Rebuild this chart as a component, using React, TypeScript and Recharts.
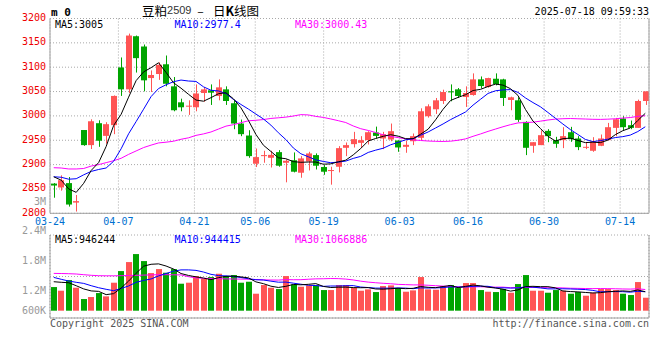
import React from 'react';
import { ComposedChart, Bar, Line, XAxis, YAxis, CartesianGrid } from 'recharts';

const dates = ["03-24","03-25","03-26","03-27","03-28","03-31","04-01","04-02","04-03","04-07","04-08","04-09","04-10","04-11","04-14","04-15","04-16","04-17","04-18","04-21","04-22","04-23","04-24","04-25","04-28","04-29","04-30","05-06","05-07","05-08","05-09","05-12","05-13","05-14","05-15","05-16","05-19","05-20","05-21","05-22","05-23","05-26","05-27","05-28","05-29","05-30","06-03","06-04","06-05","06-06","06-09","06-10","06-11","06-12","06-13","06-16","06-17","06-18","06-19","06-20","06-23","06-24","06-25","06-26","06-27","06-30","07-01","07-02","07-03","07-04","07-07","07-08","07-09","07-10","07-11","07-14","07-15","07-16","07-17","07-18"];
const tickDates = ["03-24","04-07","04-21","05-06","05-19","06-03","06-16","06-30","07-14"];

const opens = [2861,2853,2862,2822,2971,2940,2985,2959,2981,3099.5,3054.5,3163.6,3142.5,3077.7,3086,3106,3060.7,3027.9,3019,3017.7,3047,3052.5,3041,3054.5,3026,2984.3,2959.7,2901.8,2917.4,2914,2925.6,2903.8,2909,2883.3,2906.5,2919.5,2895,2887.4,2895.6,2934.5,2942,2944.7,2950.2,2965.9,2953.6,2951.5,2949.5,2936.5,2948,2955,2999.3,3013.6,3030.6,3050.4,3054.5,3038.8,3042.9,3075,3059.3,3076.3,3075,3032.7,3032,2987.7,2938.6,2940,2969.3,2950.2,2950.2,2966.5,2953.6,2935.2,2928.4,2938.6,2950.2,2975.4,2994.5,2980.9,2975.4,3030.6];
const highs = [2862,2878,2874.5,2837.6,2971,2993,2991,2987,3042,3120,3169,3165,3146.6,3093.4,3110,3124,3079.8,3035.4,3032,3064.7,3059,3064.7,3075,3060.7,3032,2992.5,2970.6,2933,2928.4,2928.4,2929.7,2910.6,2925,2917.4,2926.3,2923,2899,2895.6,2937.9,2945.4,2967.2,2958.4,2968.6,2978,2967.2,2984.3,2949.5,2949.5,2963.8,3015.6,3023.8,3036.8,3053.8,3064.7,3057.2,3060.7,3087.3,3081,3078.4,3087.3,3076.3,3039.5,3038.2,2989,2946,2970,2972.7,2957,2976.8,2977.5,2958.4,2946,2956.3,2961.8,2985.6,2995.9,2999.3,2990.4,3033.4,3050.4];
const lows = [2832,2846.5,2813.8,2803.6,2938.6,2932,2936.5,2943,2962.5,3041,3047,3089,3050.4,3049,3074,3060.7,3009.5,3009.5,3002,3009.5,3029,3022.5,3032,3022.5,2972.7,2958.4,2914,2895,2903.8,2894,2895.6,2863.6,2884,2873,2888,2890,2879,2858.8,2884,2917.4,2935,2933.8,2941.3,2953.6,2931.8,2948,2926.3,2924.3,2940,2950.2,2996.5,3004,3024.5,3030,3036.8,3018.4,3041.5,3056.6,3057.9,3062.7,3020.4,3011.6,2987.7,2919.5,2924.3,2940,2946,2934.5,2933.8,2946.8,2929.7,2931.8,2926.3,2937.9,2950.2,2958.4,2970.6,2972.7,2975.4,3022.5];
const closes = [2857,2868,2818,2825,2940,2989,2949,2983,3041,3054.5,3165,3118.6,3073,3084,3105,3066,3011.6,3017.7,3021,3046,3054.5,3047.7,3058.6,3030.6,2984.3,2962.5,2917.4,2915.4,2919.5,2920,2897.7,2907.9,2885.4,2912.7,2922.9,2897.7,2885.4,2888.8,2933.8,2940,2952.2,2950.2,2966.5,2959,2962.5,2968.6,2935.2,2940.6,2958.4,3009.5,3019.7,3032,3049,3048.4,3040.9,3047,3075,3061.3,3077.7,3065.4,3036.8,3038.2,2991.8,2934.5,2946,2960.4,2958.4,2942.7,2958.4,2952.2,2935.9,2936.5,2947.5,2953.6,2976.8,2993.1,2976.8,2975.4,3030.6,3050.4];

const ma5 = [2875,2868,2850,2843,2861.6,2888,2904.2,2937.2,2980.4,3003.3,3038.5,3072.4,3090.4,3099,3109.1,3089.3,3067.9,3056.9,3044.3,3032.5,3030.2,3037.4,3045.6,3047.5,3035.1,3016.7,2990.7,2962,2939.8,2927,2914,2912.1,2906.1,2904.7,2905.3,2905.3,2900.8,2901.5,2905.7,2909.1,2920,2933,2948.5,2953.6,2958.1,2961.4,2958.4,2953.2,2953.1,2962.5,2972.7,2992,3013.7,3031.7,3038,3043.5,3052.1,3054.5,3060.4,3065.3,3063.2,3055.9,3042,3013.3,2989.5,2974.2,2958.2,2948.4,2953.2,2954.4,2949.5,2945.1,2946.1,2945.1,2950.1,2961.5,2969.6,2975.1,2990.5,3005.3];
const ma10 = [2875,2874,2870,2871,2879,2886,2890,2893,2907,2932.5,2963.3,2988.3,3013.8,3039.7,3056.2,3063.9,3070.2,3073.6,3071.6,3070.8,3059.7,3052.7,3051.2,3045.9,3033.8,3023.5,3014,3003.8,2993.7,2981.1,2965.4,2951.4,2934.1,2922.3,2916.1,2909.7,2906.5,2903.8,2905.2,2907.2,2912.7,2916.9,2925,2929.7,2933.6,2940.7,2945.7,2950.9,2953.3,2960.3,2967,2975.2,2983.5,2992.4,3000.2,3008.1,3022.1,3034.1,3046.1,3051.6,3053.4,3054,3048.3,3036.9,3027.4,3018.7,3007.1,2995.2,2983.3,2971.9,2961.9,2951.7,2947.3,2949.2,2952.2,2955.5,2957.4,2960.6,2967.8,2977.7];
const ma30 = [2893.6,2893,2891,2891,2892,2897,2900,2904,2908,2913,2921,2928,2935,2940,2944.5,2946,2948,2952,2955,2960,2963,2967,2973,2979,2982,2986,2990,2991,2992.5,2994.8,2996.1,2997.5,2999.7,3002.6,3002,2999,2996.9,2993.7,2990.2,2986.4,2979.3,2973.7,2970.1,2965.9,2961.2,2957.9,2955.4,2952.8,2950.7,2949.5,2948.4,2947.8,2947.5,2948.1,2950,2952.8,2958.1,2962.9,2968.2,2973,2977.7,2982,2985.6,2986.3,2987.1,2989.2,2991.6,2993.4,2994.2,2994.6,2994.1,2993.6,2993,2992.8,2993.3,2994.1,2995.5,2996.6,2999.1,3000.4];

// volumes in thousands of lots
const volumes = [1182,999,1532,1149,583,683,882,716,1399,1981,2431,2831,2481,1881,2081,1898,2081,1349,1399,1732,1598,1682,1848,1732,1782,1399,1449,849,1282,1149,1082,1732,1315,1199,1265,1265,1032,1032,1282,1282,1149,999,1066,932,1232,1265,1132,949,1016,1682,1066,1049,1232,1282,1132,1382,1382,1032,949,932,1082,899,1332,1782,999,999,899,1032,999,849,932,749,899,1082,1082,1032,849,783,1432,649];
const vma5 = [1449,1420,1399,1249,1089,989,966,803,853,1132,1482,1872,2225,2321,2341,2234,2084,1858,1762,1692,1632,1552,1652,1718,1728,1689,1642,1442,1352,1226,1162,1219,1312,1295,1319,1355,1215,1159,1175,1179,1155,1149,1156,1086,1076,1099,1125,1102,1119,1209,1169,1152,1209,1262,1152,1215,1282,1242,1175,1135,1075,979,1039,1205,1219,1202,1202,1142,986,956,942,912,886,902,949,969,989,966,1036,949];
const vma10 = [1665,1570,1482,1420,1365,1250,1149,1070,1000,1111,1236,1419,1514,1587,1737,1858,1978,2041,2041,2016,1933,1818,1755,1740,1710,1660,1597,1547,1535,1477,1425,1430,1377,1324,1272,1259,1217,1235,1235,1249,1255,1182,1157,1130,1127,1127,1137,1129,1102,1142,1134,1139,1156,1191,1181,1192,1217,1226,1219,1144,1145,1130,1140,1190,1177,1139,1091,1091,1096,1087,1072,1057,1014,944,952,956,951,926,969,949];
const vma30 = [1865,1860,1850,1835,1800,1770,1750,1745,1745,1750,1760,1770,1780,1790,1800,1800,1795,1790,1700,1640,1620,1610,1600,1590,1585,1580,1575,1560,1545,1535,1531,1556,1549,1550,1573,1592,1597,1608,1604,1581,1538,1477,1430,1398,1370,1349,1317,1304,1291,1289,1272,1250,1230,1215,1193,1193,1190,1197,1185,1178,1178,1150,1151,1170,1162,1153,1148,1148,1139,1124,1117,1109,1103,1108,1103,1096,1086,1081,1094,1060];

const priceTicks = [2800, 2850, 2900, 2950, 3000, 3050, 3100, 3150, 3200];
const volLabelTicks = [600, 1200, 1800, 2400, 3000];
const volLabels = ["600K", "1.2M", "1.8M", "2.4M", "3M"];

const RED = '#ff5454';
const GREEN = '#00a400';
const BORDER = '#a0a0a0';
const GRID = '#a8a8a8';
const MONO = "'DejaVu Sans Mono', monospace";

const data = dates.map((d, i) => ({
  date: d,
  idx: i,
  o: opens[i],
  h: highs[i],
  l: lows[i],
  c: closes[i],
  m5: ma5[i],
  m10: ma10[i],
  m30: ma30[i],
  v: volumes[i],
  v5: vma5[i],
  v10: vma10[i],
  v30: vma30[i],
}));

const tickIdx = tickDates.map((t) => dates.indexOf(t));

const Candle = (props: any) => {
  const { x, y, width, height, payload } = props;
  if (x == null || y == null) return null;
  const { o, h, l, c } = payload;
  const color = c >= o ? RED : GREEN;
  const top = Math.min(y, y + height);
  const hh = Math.abs(height);
  const span = h - l || 1;
  const py = (v: number) => top + ((h - v) / span) * hh;
  const bx = Math.round(x + width / 2 - 3);
  const bTop = py(Math.max(o, c));
  const bBot = py(Math.min(o, c));
  return (
    <g>
      <line x1={bx + 3.5} x2={bx + 3.5} y1={top} y2={top + hh} stroke={color} strokeWidth={1} />
      <rect x={bx} y={bTop} width={6} height={Math.max(1, bBot - bTop)} fill={color} />
    </g>
  );
};

const VolBar = (props: any) => {
  const { x, y, width, height, payload } = props;
  if (x == null) return null;
  const color = payload.c >= payload.o ? RED : GREEN;
  const bx = Math.round(x + width / 2 - 3);
  return <rect x={bx} y={Math.min(y, y + height)} width={6} height={Math.abs(height)} fill={color} />;
};

const PriceTick = (props: any) => {
  const { x, y, payload } = props;
  return (
    <text x={x} y={y - 1} textAnchor="end" dominantBaseline="central" fill="#ee0000" fontSize={10} fontFamily={MONO}>
      {payload.value}
    </text>
  );
};

const DateTick = (props: any) => {
  const { x, y, payload } = props;
  return (
    <text x={x} y={y + 8.3} textAnchor="middle" dominantBaseline="central" fill="#0070d0" fontSize={10} fontFamily={MONO}>
      {dates[payload.value]}
    </text>
  );
};

const VolTick = (props: any) => {
  const { x, y, payload, index } = props;
  const i = volLabelTicks.indexOf(payload.value);
  return (
    <text x={x} y={index === 0 ? y - 9.5 : y} textAnchor="end" dominantBaseline="central" fill="#999999" fontSize={10} fontFamily={MONO}>
      {volLabels[i]}
    </text>
  );
};

const GRID_DOMAIN: [number, number] = [0, 78.8];

export default function App() {
  return (
    <div style={{ position: 'absolute', left: 0, top: 0, width: 660, height: 360, background: '#fff', overflow: 'hidden' }}>
      <div style={{ position: 'absolute', left: 0, top: 0 }}>
        <ComposedChart width={660} height={230} data={data} margin={{ top: 18.5, right: 10, bottom: 0, left: 0 }}>
          <CartesianGrid xAxisId="g" yAxisId="p" stroke={GRID} strokeDasharray="1 2" />
          <XAxis
            xAxisId="g"
            dataKey="idx"
            type="number"
            domain={GRID_DOMAIN}
            allowDataOverflow
            ticks={tickIdx}
            interval={0}
            height={16.7}
            tickSize={0}
            tickMargin={0}
            tickLine={false}
            axisLine={{ stroke: BORDER }}
            tick={<DateTick />}
          />
          <XAxis xAxisId="c" dataKey="date" type="category" height={0} tick={false} tickLine={false} axisLine={false} />
          <YAxis
            yAxisId="p"
            orientation="left"
            width={50}
            domain={[2800, 3200]}
            allowDataOverflow
            ticks={priceTicks}
            interval={0}
            tickSize={0}
            tickMargin={4}
            tickLine={false}
            axisLine={{ stroke: BORDER }}
            tick={<PriceTick />}
          />
          <YAxis yAxisId="r" orientation="right" width={1} domain={[0, 1]} tick={false} tickLine={false} axisLine={{ stroke: BORDER }} />
          <Line xAxisId="c" yAxisId="p" dataKey="m30" stroke="#ff00ff" strokeWidth={1} dot={false} isAnimationActive={false} />
          <Line xAxisId="c" yAxisId="p" dataKey="m10" stroke="#0000ff" strokeWidth={1} dot={false} isAnimationActive={false} />
          <Line xAxisId="c" yAxisId="p" dataKey="m5" stroke="#000000" strokeWidth={1} dot={false} isAnimationActive={false} />
          <Bar xAxisId="c" yAxisId="p" dataKey={(d: any) => [d.l, d.h]} barSize={6} shape={<Candle />} isAnimationActive={false} />
        </ComposedChart>
      </div>
      <div style={{ position: 'absolute', left: 0, top: 190 }}>
        <ComposedChart width={660} height={140} data={data} margin={{ top: 45, right: 10, bottom: 0, left: 0 }}>
          <CartesianGrid xAxisId="g" yAxisId="vg" stroke={GRID} strokeDasharray="1 2" />
          <XAxis
            xAxisId="g"
            dataKey="idx"
            type="number"
            domain={GRID_DOMAIN}
            allowDataOverflow
            ticks={tickIdx}
            interval={0}
            height={12}
            tick={false}
            tickLine={false}
            axisLine={{ stroke: BORDER }}
          />
          <XAxis xAxisId="c" dataKey="date" type="category" height={0} tick={false} tickLine={false} axisLine={false} />
          <XAxis xAxisId="t" orientation="top" dataKey="idx" type="number" domain={GRID_DOMAIN} allowDataOverflow height={0} tick={false} tickLine={false} axisLine={{ stroke: BORDER }} />
          <YAxis
            yAxisId="lab"
            orientation="left"
            width={50}
            domain={[639, 2319]}
            allowDataOverflow
            ticks={volLabelTicks}
            interval={0}
            tickSize={0}
            tickMargin={4}
            tickLine={false}
            axisLine={{ stroke: BORDER }}
            tick={<VolTick />}
          />
          <YAxis yAxisId="v" hide domain={[-365, 3785]} allowDataOverflow />
          <YAxis yAxisId="vg" hide domain={[0, 4]} ticks={[0, 1, 2, 3, 4]} allowDataOverflow />
          <YAxis yAxisId="vr" orientation="right" width={1} domain={[0, 1]} tick={false} tickLine={false} axisLine={{ stroke: BORDER }} />
          <Bar xAxisId="c" yAxisId="v" dataKey="v" barSize={6} shape={<VolBar />} isAnimationActive={false} />
          <Line xAxisId="c" yAxisId="v" dataKey="v30" stroke="#ff00ff" strokeWidth={1} dot={false} isAnimationActive={false} />
          <Line xAxisId="c" yAxisId="v" dataKey="v10" stroke="#0000ff" strokeWidth={1} dot={false} isAnimationActive={false} />
          <Line xAxisId="c" yAxisId="v" dataKey="v5" stroke="#000000" strokeWidth={1} dot={false} isAnimationActive={false} />
        </ComposedChart>
      </div>
      <svg width={660} height={360} style={{ position: 'absolute', left: 0, top: 0, pointerEvents: 'none' }}>
        <text x={51} y={12} dominantBaseline="central" fontSize={11} fontWeight="bold" fontFamily={MONO} fill="#000">m 0</text>
        <text x={142} y={10} dominantBaseline="central" fontSize={12.5} fontFamily="'Noto Sans CJK SC'" fill="#000">
          豆粕<tspan fontFamily="'Liberation Sans'" fontSize={11} fill="#333">2509</tspan>
        </text>
        <text x={200.5} y={10} textAnchor="middle" dominantBaseline="central" fontSize={12} fontFamily="'Noto Sans CJK SC'" fill="#000">–</text>
        <text x={213} y={10} dominantBaseline="central" fontSize={12.5} fontFamily="'Noto Sans CJK SC'" fill="#000">
          日<tspan fontWeight="bold">K</tspan>线图
        </text>
        <text x={649} y={11} textAnchor="end" dominantBaseline="central" fontSize={10} fontFamily={MONO} fill="#000">2025-07-18 09:59:33</text>
        <text x={55} y={24} dominantBaseline="central" fontSize={10} fontFamily={MONO} fill="#000">MA5:3005</text>
        <text x={174.5} y={24} dominantBaseline="central" fontSize={10} fontFamily={MONO} fill="#0000ff">MA10:2977.4</text>
        <text x={295} y={24} dominantBaseline="central" fontSize={10} fontFamily={MONO} fill="#ff00ff">MA30:3000.43</text>
        <text x={55} y={239} dominantBaseline="central" fontSize={10} fontFamily={MONO} fill="#000">MA5:946244</text>
        <text x={174.5} y={239} dominantBaseline="central" fontSize={10} fontFamily={MONO} fill="#0000ff">MA10:944415</text>
        <text x={295} y={239} dominantBaseline="central" fontSize={10} fontFamily={MONO} fill="#ff00ff">MA30:1066886</text>
        <text x={50} y={323} dominantBaseline="central" fontSize={10} fontFamily={MONO} fill="#555">Copyright 2025 SINA.COM</text>
        <text x={649} y={323} textAnchor="end" dominantBaseline="central" fontSize={10} fontFamily={MONO} fill="#555">http://finance.sina.com.cn</text>
      </svg>
    </div>
  );
}
